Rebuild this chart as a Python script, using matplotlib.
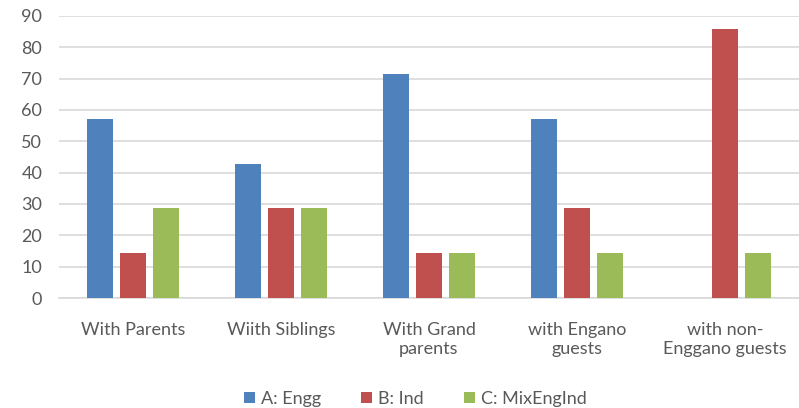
import matplotlib
matplotlib.use("Agg")
import matplotlib.pyplot as plt
import numpy as np

categories = ["With Parents", "Wiith Siblings", "With Grand\nparents",
              "with Engano\nguests", "with non-\nEnggano guests"]
series_names = ["A: Engg", "B: Ind", "C: MixEngInd"]
engg = [57.1, 42.9, 71.4, 57.1, 0]
ind = [14.3, 28.6, 14.3, 28.6, 85.7]
mix = [28.6, 28.6, 14.3, 14.3, 14.3]
colors = ["#4F81BD", "#C0504D", "#9BBB59"]

plt.rcParams["font.family"] = ["Lato", "DejaVu Sans"]
text_color = "#595959"

fig = plt.figure(figsize=(7.99, 4.08), dpi=100)
ax = fig.add_axes([0.0738, 0.2696, 0.9262, 0.6912])

x = np.arange(len(categories))
width = 0.176
step = 0.223
for i, (vals, name, c) in enumerate(zip([engg, ind, mix], series_names, colors)):
    ax.bar(x + (i - 1) * step, vals, width, color=c, label=name, zorder=3)

ax.set_xlim(-0.5, len(categories) - 0.5)
ax.set_ylim(0, 90)
ax.set_yticks(range(0, 91, 10))
ax.yaxis.grid(True, color="#D9D9D9", linewidth=1.2, zorder=0)
ax.set_xticks(x)
ax.set_xticklabels(categories, linespacing=1.25)
ax.tick_params(axis="both", length=0, labelsize=13, colors=text_color)
ax.tick_params(axis="x", pad=17)
ax.tick_params(axis="y", pad=12)
for lab in ax.get_xticklabels():
    lab.set_verticalalignment("top")
for s in ["top", "right", "left"]:
    ax.spines[s].set_visible(False)
ax.spines["bottom"].set_color("#D9D9D9")
ax.spines["bottom"].set_linewidth(1.2)

fig.legend(loc="center", bbox_to_anchor=(0.52, 0.022), ncol=3, frameon=False,
           fontsize=13, labelcolor=text_color, handlelength=0.6,
           handleheight=0.6, handletextpad=0.35, columnspacing=2.2)

fig.savefig("out.png", dpi=100)
